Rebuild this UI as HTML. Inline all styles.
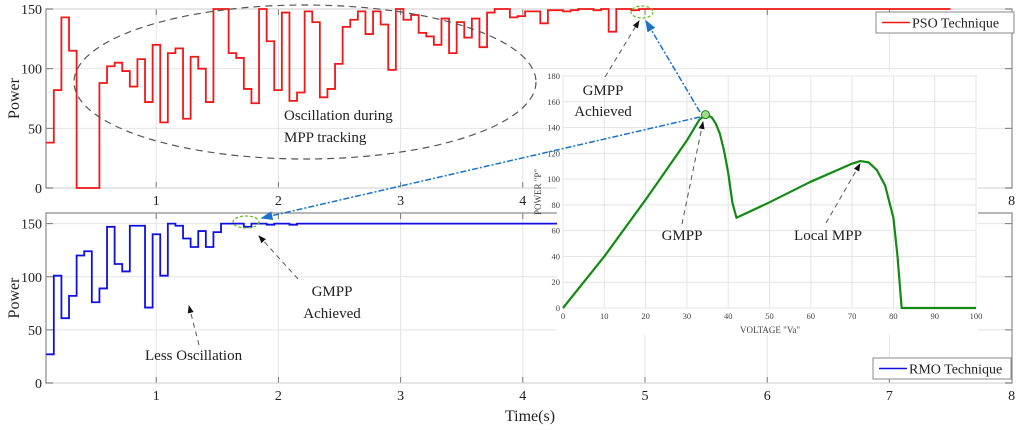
<!DOCTYPE html>
<html><head><meta charset="utf-8"><style>
body{margin:0;background:#fff}
svg{display:block;font-family:"Liberation Serif",serif}
</style></head><body>
<svg id="c" width="1024" height="430" viewBox="0 0 1024 430" xmlns="http://www.w3.org/2000/svg">
<defs>
<marker id="ak" markerWidth="8" markerHeight="8" refX="7" refY="4" orient="auto"><path d="M0,1 L8,4 L0,7 Z" fill="#111"/></marker>
<marker id="ab" markerWidth="8" markerHeight="8" refX="7" refY="4" orient="auto"><path d="M0,1 L8,4 L0,7 Z" fill="#1a73c8"/></marker>
</defs>
<g id="g"></g>
</svg>
<script>
const xTicks=[1,2,3,4,5,6,7,8];
const yTicks=[0,50,100,150];
const psoStart=0.1, step=0.0622, psoEnd=7.5;
const psoValues=[38,82,143,115,0,0,0,88,102,105,98,85,108,72,120,55,113,117,58,110,100,72,150,150,113,109,83,71,150,123,82,147,73,80,148,139,76,83,104,135,141,148,129,148,137,99,150,141,145,130,127,120,142,113,139,126,142,118,147,150,150,143,144,148,148,138,149,149,148,149,150,150,149,150,131,150,150,149,150];
const rmoStart=0.1, rmoEnd=7.5;
const rmoValues=[27,101,61,82,120,124,76,89,147,112,105,148,148,71,140,101,150,148,136,128,143,128,142,150,150,150,147,150,150,149,150,150,149,150];
const pvV=[0,10,20,25,30,33,34.5,36,37,38,39,40,41,42,50,60,70,72,74,76,78,80,81,82,100];
const pvP=[0,40,84,107,130,146,150,148,143,135,122,105,82,70,82,98,112,114,113,107,95,70,40,0,0];
const pvXTicks=[0,10,20,30,40,50,60,70,80,90,100];
const pvYTicks=[0,20,40,60,80,100,120,140,160,180];

const NS="http://www.w3.org/2000/svg";
const G=document.getElementById('g');
function el(t,a,p){const e=document.createElementNS(NS,t);for(const k in a)e.setAttribute(k,a[k]);(p||G).appendChild(e);return e;}
function tx(x,y,s,a,p){const e=el('text',Object.assign({x:x,y:y},a||{}),p);e.textContent=s;return e;}

const X=t=>34+t*122.2;
const L=46, R=1012;
function panel(top,bot,ymax,name){
  const Y=v=>bot-(bot-top)*v/ymax;
  const f=el('rect',{x:L,y:top,width:R-L,height:bot-top,fill:'#fff',stroke:'#888','stroke-width':1.2});
  
  
  xTicks.forEach(t=>{if(X(t)<R-2){el('line',{x1:X(t),x2:X(t),y1:top,y2:bot,stroke:'#e4e4e4'});el('line',{x1:X(t),x2:X(t),y1:bot,y2:bot-6,stroke:'#777'});el('line',{x1:X(t),x2:X(t),y1:top,y2:top+6,stroke:'#777'});}});
  yTicks.forEach(v=>{el('line',{x1:L,x2:R,y1:Y(v),y2:Y(v),stroke:'#e4e4e4'});el('line',{x1:L,x2:L+7,y1:Y(v),y2:Y(v),stroke:'#777'});el('line',{x1:R,x2:R-7,y1:Y(v),y2:Y(v),stroke:'#777'});
    const l=tx(42,Y(v)+5,v,{'text-anchor':'end','font-size':14,fill:'#222'});
    
    });
  xTicks.forEach(t=>{const l=tx(X(t),bot+17,t,{'text-anchor':'middle','font-size':14,fill:'#222'});
    
    });
  const yl=tx(0,0,'Power',{transform:`translate(19,${(top+bot)/2}) rotate(-90)`,'text-anchor':'middle','font-size':16,fill:'#222'});
  
  
  return Y;
}
function stepPath(start,vals,end,Y){
  let d='',t=start;
  vals.forEach((v,i)=>{d+=(i?'L':'M')+X(t)+','+Y(v)+'L'+X(i==vals.length-1?end:t+step)+','+Y(v);t+=step;});
  return d;
}
const Y1=panel(9,188,150,'pso-panel');
const p1=el('path',{d:stepPath(psoStart,psoValues,psoEnd,Y1),fill:'none',stroke:'#f01818','stroke-width':1.8});


const Y2=panel(213,383,160,'rmo-panel');
const p2=el('path',{d:stepPath(rmoStart,rmoValues,rmoEnd,Y2),fill:'none',stroke:'#1010e0','stroke-width':1.8});



function legend(x,y,c,s,n){const g=el('g',{});
  el('rect',{x:x,y:y,width:138,height:21,fill:'#fff',stroke:'#888'},g);
  el('line',{x1:x+6,x2:x+34,y1:y+10.5,y2:y+10.5,stroke:c,'stroke-width':1.6},g);
  tx(x+36,y+15.5,s,{'font-size':14,fill:'#222'},g);}
legend(876,12,'#f01818','PSO Technique','pso-legend');
legend(873,358,'#1010e0','RMO Technique','rmo-legend');

const xt=tx(530,421,'Time(s)',{'text-anchor':'middle','font-size':16,fill:'#222'});



el('ellipse',{cx:305,cy:82,rx:231,ry:77,fill:'none',stroke:'#555','stroke-dasharray':'7,5','stroke-width':1.2});
tx(284,120,'Oscillation during',{'font-size':15,fill:'#222'});
tx(284,142,'MPP tracking',{'font-size':15,fill:'#222'});
tx(145,360,'Less Oscillation',{'font-size':15,fill:'#222'});
el('line',{x1:199,y1:345,x2:189,y2:306,stroke:'#555','stroke-dasharray':'5,4','marker-end':'url(#ak)'});
tx(332,296,'GMPP',{'font-size':15,'text-anchor':'middle',fill:'#222'});
tx(332,318,'Achieved',{'font-size':15,'text-anchor':'middle',fill:'#222'});
el('line',{x1:298,y1:279,x2:259,y2:236,stroke:'#555','stroke-dasharray':'5,4','marker-end':'url(#ak)'});
el('ellipse',{cx:246,cy:222,rx:13,ry:6,fill:'none',stroke:'#6cbf2a','stroke-dasharray':'3,2','stroke-width':1.3});

const IL=563,IR=976,IT=76,IB=308;
const VX=v=>IL+(IR-IL)*v/100, PY=p=>IB-(IB-IT)*p/180;
const ig=el('g',{});
el('rect',{x:IL-6,y:IT-5,width:IR-IL+8,height:IB-IT+32,fill:'#fff'},ig);
el('rect',{x:IL,y:IT,width:IR-IL,height:IB-IT,fill:'#fff',stroke:'#888'},ig);
pvXTicks.forEach(v=>{el('line',{x1:VX(v),x2:VX(v),y1:IT,y2:IB,stroke:'#e4e4e4'},ig);
  tx(VX(v),IB+11,v,{'text-anchor':'middle','font-size':8.5,fill:'#444'},ig);});
pvYTicks.forEach(v=>{el('line',{x1:IL,x2:IR,y1:PY(v),y2:PY(v),stroke:'#e4e4e4'},ig);
  tx(IL-3,PY(v)+3,v,{'text-anchor':'end','font-size':8.5,fill:'#444'},ig);});
tx(770,333,'VOLTAGE "Va"',{'text-anchor':'middle','font-size':9,fill:'#444'},ig);
tx(0,0,'POWER "P"',{transform:`translate(541,192) rotate(-90)`,'text-anchor':'middle','font-size':9,fill:'#444'},ig);
const pv=el('path',{d:pvV.map((v,i)=>(i?'L':'M')+VX(v)+','+PY(pvP[i])).join(''),fill:'none',stroke:'#138a13','stroke-width':2.2,'stroke-linejoin':'round'},ig);


el('circle',{cx:VX(34.5),cy:PY(150),r:4,fill:'#9fdc8a',stroke:'#138a13'},ig);
tx(603,95,'GMPP',{'font-size':15,'text-anchor':'middle',fill:'#222'});
tx(603,116,'Achieved',{'font-size':15,'text-anchor':'middle',fill:'#222'});
el('line',{x1:605,y1:77,x2:639,y2:21,stroke:'#555','stroke-dasharray':'5,4','marker-end':'url(#ak)'});
el('ellipse',{cx:642,cy:12,rx:11,ry:6,fill:'none',stroke:'#6cbf2a','stroke-dasharray':'3,2','stroke-width':1.3});
tx(682,240,'GMPP',{'font-size':15,'text-anchor':'middle',fill:'#222'});
el('line',{x1:682,y1:224,x2:703,y2:122,stroke:'#555','stroke-dasharray':'5,4','marker-end':'url(#ak)'});
tx(828,240,'Local MPP',{'font-size':15,'text-anchor':'middle',fill:'#222'});
el('line',{x1:826,y1:223,x2:860,y2:164,stroke:'#555','stroke-dasharray':'5,4','marker-end':'url(#ak)'});
el('line',{x1:700,y1:112,x2:646,y2:21,stroke:'#1a73c8','stroke-width':1.5,'stroke-dasharray':'6,2,2,2','marker-end':'url(#ab)'});
el('line',{x1:700,y1:117,x2:262,y2:218,stroke:'#1a73c8','stroke-width':1.5,'stroke-dasharray':'6,2,2,2','marker-end':'url(#ab)'});
</script>
</body></html>
